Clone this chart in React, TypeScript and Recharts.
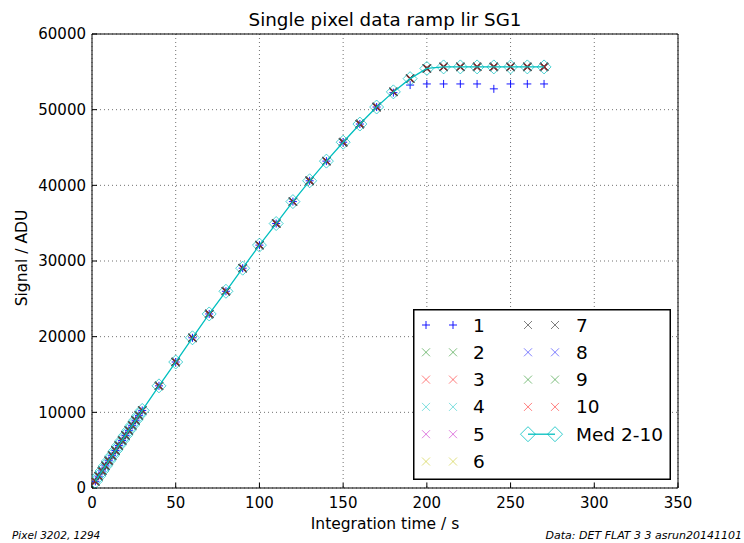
import { ScatterChart, Scatter, XAxis, YAxis, CartesianGrid, Legend } from "recharts";

// integration times (s)
const times = [
  2, 4, 6, 8, 10, 12, 14, 16, 18, 20, 22, 24, 26, 28, 30,
  40, 50, 60, 70, 80, 90, 100, 110, 120, 130, 140, 150, 160, 170, 180,
  190, 200, 210, 220, 230, 240, 250, 260, 270,
];

// median of pixels 2-10 (ADU), pixels 2-10 sit on top of it
const medianRamp = [
  880, 1560, 2250, 2920, 3600, 4270, 4950, 5620, 6280, 6950, 7620, 8280, 8950, 9600, 10250,
  13500, 16650, 19850, 23000, 26000, 29050, 32100, 34950, 37850, 40600, 43200, 45700, 48100, 50350, 52350,
  54100, 55450, 55650, 55650, 55650, 55650, 55650, 55650, 55650,
];

// pixel 1 saturates lower
const pixel1Ramp = [
  880, 1560, 2250, 2920, 3600, 4270, 4950, 5620, 6280, 6950, 7620, 8280, 8950, 9600, 10250,
  13500, 16650, 19850, 23000, 26000, 29050, 32100, 34950, 37850, 40600, 43200, 45700, 48100, 50350, 52250,
  53250, 53400, 53400, 53400, 53400, 52750, 53400, 53400, 53400,
];

const xTicks = [0, 50, 100, 150, 200, 250, 300, 350];
const yTicks = [0, 10000, 20000, 30000, 40000, 50000, 60000];

const seriesNames = ["1", "2", "3", "4", "5", "6", "7", "8", "9", "10"];
const seriesColors = ["#0000ff", "#008000", "#ff0000", "#00bfbf", "#bf00bf", "#bfbf00", "#000000", "#0000ff", "#008000", "#ff0000"];
const seriesValues = [pixel1Ramp, medianRamp, medianRamp, medianRamp, medianRamp, medianRamp, medianRamp, medianRamp, medianRamp, medianRamp];

const MED = "#00bfbf";
const FONT = "'DejaVu Sans', sans-serif";

const toPoints = (vals: number[]) => times.map((t, i) => ({ x: t, y: vals[i] }));

const plusMark = (cx: number, cy: number, color: string, op: number, r = 4, w = 1) => (
  <g stroke={color} strokeOpacity={op} strokeWidth={w}>
    <line x1={cx - r} y1={cy} x2={cx + r} y2={cy} />
    <line x1={cx} y1={cy - r} x2={cx} y2={cy + r} />
  </g>
);

const crossMark = (cx: number, cy: number, color: string, op: number, r = 4, w = 1) => (
  <g stroke={color} strokeOpacity={op} strokeWidth={w}>
    <line x1={cx - r} y1={cy - r} x2={cx + r} y2={cy + r} />
    <line x1={cx - r} y1={cy + r} x2={cx + r} y2={cy - r} />
  </g>
);

const diamondMark = (cx: number, cy: number, r = 7, op = 0.7) => (
  <polygon
    points={`${cx},${cy - r} ${cx + r},${cy} ${cx},${cy + r} ${cx - r},${cy}`}
    fill="none"
    stroke={MED}
    strokeOpacity={op}
    strokeWidth={1}
  />
);

const markFor = (i: number) => (p: any) =>
  i === 0
    ? plusMark(p.cx, p.cy, seriesColors[i], 0.9, 4, 1)
    : crossMark(p.cx, p.cy, seriesColors[i], 0.5, 4, 1.2);

const LegendBox = () => {
  const rowY = (r: number) => 16 + r * 27.3;
  return (
    <svg width={258} height={171} style={{ display: "block" }}>
      <rect x={0.75} y={0.75} width={256.5} height={169.5} fill="#fff" stroke="#000" strokeWidth={1.5} />
      {seriesNames.map((n, i) => {
        const col = i < 6 ? 0 : 1;
        const row = i < 6 ? i : i - 6;
        const mx = col === 0 ? 13 : 115;
        const tx = col === 0 ? 60 : 163;
        const cy = rowY(row);
        const draw = i === 0 ? plusMark : crossMark;
        const op = i === 0 ? 0.9 : 0.5;
        return (
          <g key={n}>
            {draw(mx, cy, seriesColors[i], op)}
            {draw(mx + 27, cy, seriesColors[i], op)}
            <text x={tx} y={cy} dominantBaseline="central" fontSize={18.5} fontFamily={FONT} fill="#000">
              {n}
            </text>
          </g>
        );
      })}
      <g>
        <line x1={115} y1={rowY(4)} x2={142} y2={rowY(4)} stroke={MED} strokeWidth={1.3} />
        {diamondMark(115, rowY(4), 7.5, 0.8)}
        {diamondMark(142, rowY(4), 7.5, 0.8)}
        <text x={163} y={rowY(4)} dominantBaseline="central" fontSize={18.5} fontFamily={FONT} fill="#000">
          Med 2-10
        </text>
      </g>
    </svg>
  );
};

const tickStyle = { fill: "#000", fontSize: 15, fontFamily: FONT };

export default function App() {
  return (
    <div style={{ position: "absolute", left: 0, top: 0, width: 744, height: 543, overflow: "hidden", background: "#fff", fontFamily: FONT }}>
      <div style={{ position: "absolute", left: 0, width: 770, top: 10, textAlign: "center", fontSize: 18.3, lineHeight: "20px" }}>
        Single pixel data ramp lir SG1
      </div>
      <ScatterChart width={744} height={543} margin={{ top: 33, right: 65, bottom: 25, left: 0 }}>
        <CartesianGrid stroke="#000" strokeOpacity={0.8} strokeWidth={0.7} strokeDasharray="1 3" />
        <XAxis
          type="number"
          dataKey="x"
          domain={[0, 350]}
          ticks={xTicks}
          height={30}
          stroke="#000"
          tickSize={-5}
          tickMargin={14}
          tick={tickStyle}
          allowDataOverflow
        />
        <XAxis xAxisId="top" orientation="top" type="number" dataKey="x" domain={[0, 350]} ticks={xTicks} height={1} stroke="#000" tickSize={-5} tick={false} />
        <YAxis
          type="number"
          dataKey="y"
          domain={[0, 60000]}
          ticks={yTicks}
          width={92}
          stroke="#000"
          tickSize={-5}
          tickMargin={11}
          tick={tickStyle}
          allowDataOverflow
        />
        <YAxis yAxisId="right" orientation="right" type="number" dataKey="y" domain={[0, 60000]} ticks={yTicks} width={1} stroke="#000" tickSize={-5} tick={false} />
        {seriesNames.map((n, i) => (
          <Scatter
            key={n}
            name={n}
            data={toPoints(seriesValues[i])}
            shape={markFor(i)}
            isAnimationActive={false}
          />
        ))}
        <Scatter
          name="Med 2-10"
          data={toPoints(medianRamp)}
          line={{ stroke: MED, strokeWidth: 1.3 }}
          lineType="joint"
          shape={(p: any) => diamondMark(p.cx, p.cy)}
          isAnimationActive={false}
        />
        <Legend
          layout="vertical"
          align="center"
          verticalAlign="middle"
          content={() => <LegendBox />}
          wrapperStyle={{ left: 413, top: 309, width: 258, height: 171 }}
        />
      </ScatterChart>
      <div style={{ position: "absolute", left: 0, width: 770, top: 514, textAlign: "center", fontSize: 15.5, lineHeight: "20px" }}>
        Integration time / s
      </div>
      <div
        style={{
          position: "absolute",
          left: 22,
          top: 258,
          transform: "translate(-50%, -50%) rotate(-90deg)",
          fontSize: 15.5,
          lineHeight: "20px",
          whiteSpace: "nowrap",
        }}
      >
        Signal / ADU
      </div>
      <div style={{ position: "absolute", left: 12, top: 529, fontSize: 10.5, lineHeight: "13px", fontStyle: "italic" }}>
        Pixel 3202, 1294
      </div>
      <div style={{ position: "absolute", right: 2, top: 529, fontSize: 11, lineHeight: "13px", fontStyle: "italic", whiteSpace: "nowrap" }}>
        Data: DET FLAT 3 3 asrun20141101
      </div>
    </div>
  );
}
